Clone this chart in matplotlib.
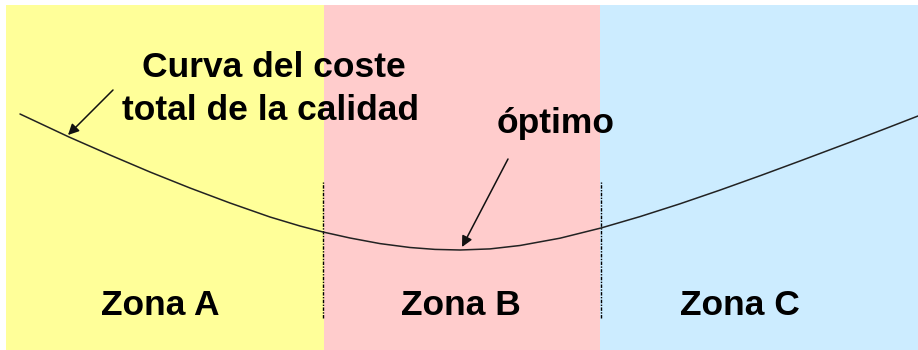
import matplotlib
matplotlib.use("Agg")
import matplotlib.pyplot as plt

# ---- data ----
zone_labels = ["Zona A", "Zona B", "Zona C"]
zone_edges = [6, 324, 600, 918]
zone_colors = ["#FFFF99", "#FFCCCC", "#CCECFF"]
zone_label_x = [160, 461, 740]

quality = [20, 69, 110, 150, 190, 230, 270, 300, 323, 350, 380, 410, 435, 460,
           490, 520, 560, 601, 640, 680, 720, 761, 800, 849, 885, 918]
total_cost = [236, 213, 195, 178, 162, 147, 133, 124, 118, 112, 106.4, 102.5,
              100.6, 100, 101.1, 104.5, 111.8, 122, 133.4, 146.2, 159.9, 174.6,
              189, 207.4, 221.2, 234]

divider_x = [323, 601]
divider_y = (32, 168)

curve_label = ["Curva del coste", "total de la calidad"]
optimum_label = "óptimo"

# ---- figure ----
fig = plt.figure(figsize=(9.18, 3.5), dpi=100)
ax = fig.add_axes([0, 0, 1, 1])
ax.set_xlim(0, 918)
ax.set_ylim(0, 350)
ax.axis("off")

for i in range(3):
    ax.axvspan(zone_edges[i], zone_edges[i + 1], ymin=0, ymax=345 / 350,
               color=zone_colors[i], lw=0, zorder=0)

for x in divider_x:
    ax.plot([x, x], divider_y, color="black", lw=1.0,
            linestyle=(0, (2.5, 1, 1, 1)), zorder=2)

ax.plot(quality, total_cost, color="#222222", lw=1.1, zorder=3,
        solid_capstyle="round", solid_joinstyle="round")

font = dict(family=["Liberation Sans", "DejaVu Sans"], weight="bold",
            size=25.5, color="black")

for lab, x in zip(zone_labels, zone_label_x):
    ax.text(x, 35, lab, ha="center", va="baseline", **font)

ax.text(274, 273, curve_label[0], ha="center", va="baseline", **font)
ax.text(270, 230, curve_label[1], ha="center", va="baseline", **font)
ax.text(497, 217, optimum_label, ha="left", va="baseline", **font)

arrow = dict(arrowstyle="-|>", mutation_scale=16, lw=1.1, color="#111111",
             shrinkA=0, shrinkB=0)
ax.annotate("", xy=(68, 215), xytext=(113, 260), arrowprops=arrow, zorder=4)
ax.annotate("", xy=(462, 103), xytext=(508, 191), arrowprops=arrow, zorder=4)

fig.savefig("out.png", dpi=100)
